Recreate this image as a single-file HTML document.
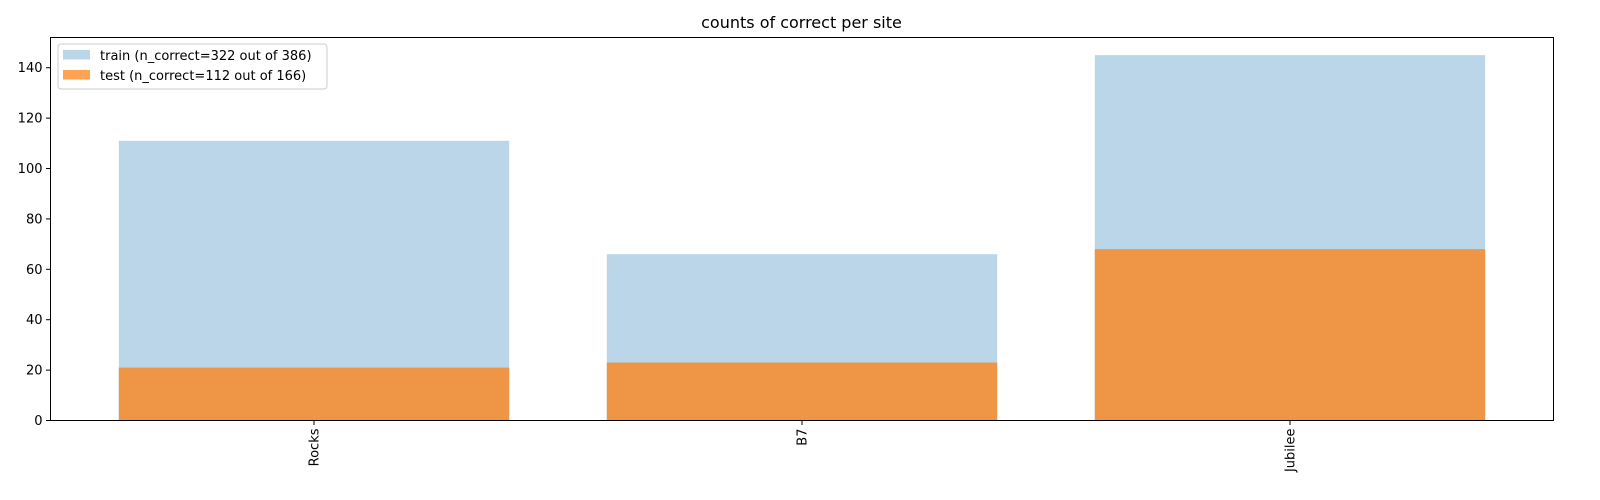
<!DOCTYPE html>
<html><head><meta charset="utf-8"><style>
body{margin:0;background:#fff;}
svg{display:block;font-family:"DejaVu Sans","Liberation Sans",sans-serif;}
</style></head><body>
<svg id="chart" width="1600" height="500" viewBox="0 0 1600 500" xmlns="http://www.w3.org/2000/svg">
<rect width="1600" height="500" fill="#fff"/>
<text x="801.5" y="28" text-anchor="middle" font-size="16">counts of correct per site</text>
<g id="bars"></g>
<g id="axes"></g>
<rect x="50.5" y="37.5" width="1503" height="383" fill="none" stroke="#000" stroke-width="1"/>
<g>
<rect x="58" y="44" width="269" height="45" rx="3" fill="#fff" fill-opacity="0.8" stroke="#ccc"/>
<rect x="63" y="50" width="27" height="9.5" fill="#bad6e8"/>
<text x="100" y="60" font-size="13">train (n_correct=322 out of 386)</text>
<rect x="63" y="70" width="27" height="9.5" fill="#ff9e4a" fill-opacity="0.95"/>
<text x="100" y="80" font-size="13">test (n_correct=112 out of 166)</text>
</g>
</svg>
<script>
const categories = ["Rocks", "B7", "Jubilee"];
const trainValues = [111, 66, 145];
const testValues = [21, 23, 68];
const yTicks = [0, 20, 40, 60, 80, 100, 120, 140];

{
const NS = "http://www.w3.org/2000/svg";
const pLeft = 50.5, pRight = 1553.5, pTop = 37.5, pBottom = 420.5;
const xMin = -0.54, xMax = 2.54, yMin = 0, yMax = 152;
const xs = v => pLeft + (v - xMin) / (xMax - xMin) * (pRight - pLeft);
const ys = v => pBottom - (v - yMin) / (yMax - yMin) * (pBottom - pTop);
const bw = 0.8;
const barsG = document.getElementById("bars");
const axesG = document.getElementById("axes");
const mk = (tag, attrs, parent) => {
  const e = document.createElementNS(NS, tag);
  for (const k in attrs) e.setAttribute(k, attrs[k]);
  parent.appendChild(e);
  return e;
};
categories.forEach((c, i) => {
  const x0 = xs(i - bw/2), x1 = xs(i + bw/2);
  const r1 = mk("rect", {x: x0, y: ys(trainValues[i]), width: x1 - x0, height: ys(0) - ys(trainValues[i]), fill: "#bad6e8"}, barsG);
  
  
  const r2 = mk("rect", {x: x0, y: ys(testValues[i]), width: x1 - x0, height: ys(0) - ys(testValues[i]), fill: "#ee9645"}, barsG);
  
  
  const tx = xs(i);
  const t = mk("line", {x1: tx, x2: tx, y1: pBottom, y2: pBottom + 4.5, stroke: "#000"}, axesG);
  
  
  const lab = mk("text", {x: 0, y: 0, "font-size": 13, "text-anchor": "end", transform: `translate(${tx + 4.5},${pBottom + 8}) rotate(-90)`}, axesG);
  lab.textContent = c;
  
  
});
yTicks.forEach(v => {
  const y = ys(v);
  const t = mk("line", {x1: pLeft - 4.5, x2: pLeft, y1: y, y2: y, stroke: "#000"}, axesG);
  
  
  const lab = mk("text", {x: pLeft - 8, y: y + 4.5, "font-size": 13, "text-anchor": "end"}, axesG);
  lab.textContent = v;
  
  
});
}
</script>
</body></html>
